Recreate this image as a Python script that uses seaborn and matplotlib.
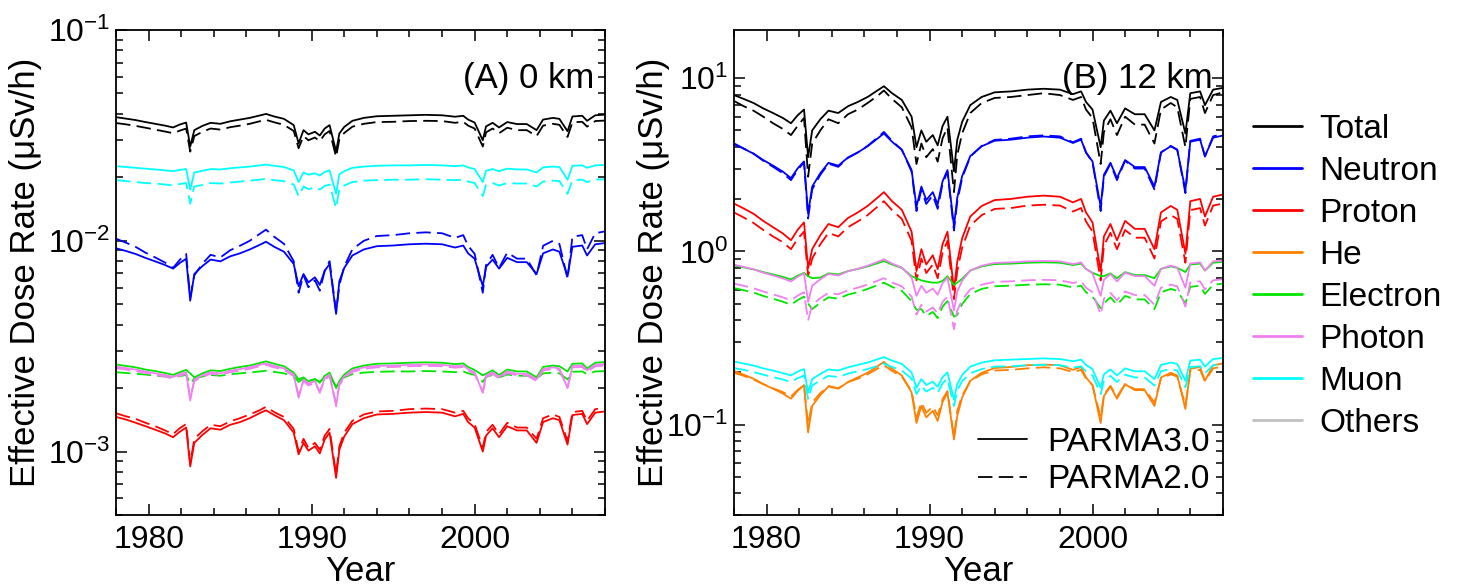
import matplotlib
matplotlib.use('Agg')
import matplotlib.pyplot as plt
from matplotlib.lines import Line2D
from matplotlib.ticker import LogLocator, MultipleLocator, NullFormatter
import numpy as np
import pandas as pd
import seaborn as sns

# time points (year), denser around the sharp decreases
years = [1978.0, 1978.6, 1979.2, 1979.8, 1980.4, 1981.0, 1981.5, 1981.9, 1982.3, 1982.55,
         1982.8, 1983.3, 1983.8, 1984.4, 1985.0, 1985.6, 1986.2, 1986.8, 1987.2, 1987.7,
         1988.3, 1988.9, 1989.2, 1989.5, 1989.8, 1990.2, 1990.5, 1990.8, 1991.1, 1991.5,
         1991.7, 1992.0, 1992.5, 1993.2, 1994.0, 1995.0, 1996.0, 1997.0, 1998.0, 1998.8,
         1999.3, 1999.6, 2000.0, 2000.5, 2000.7, 2001.1, 2001.5, 2002.0, 2002.6, 2003.2,
         2003.8, 2004.2, 2004.8, 2005.2, 2005.7, 2006.0, 2006.6, 2006.9, 2007.4, 2008.0]

# ---------------- (A) 0 km, uSv/h ----------------
a_total_30 = [0.0386, 0.0380, 0.0374, 0.0366, 0.0359, 0.0352, 0.0345, 0.0356, 0.0364, 0.0280,
              0.0335, 0.0351, 0.0363, 0.0359, 0.0369, 0.0376, 0.0383, 0.0393, 0.0400, 0.0389,
              0.0379, 0.0354, 0.0290, 0.0335, 0.0320, 0.0329, 0.0316, 0.0341, 0.0354, 0.0265,
              0.0323, 0.0347, 0.0371, 0.0383, 0.0390, 0.0392, 0.0394, 0.0396, 0.0394, 0.0388,
              0.0392, 0.0376, 0.0364, 0.0300, 0.0349, 0.0363, 0.0345, 0.0366, 0.0358, 0.0358,
              0.0335, 0.0376, 0.0383, 0.0379, 0.0331, 0.0389, 0.0392, 0.0371, 0.0394, 0.0397]
a_total_20 = [0.0362, 0.0357, 0.0351, 0.0344, 0.0337, 0.0330, 0.0324, 0.0333, 0.0341, 0.0265,
              0.0314, 0.0329, 0.0341, 0.0337, 0.0346, 0.0352, 0.0359, 0.0369, 0.0375, 0.0365,
              0.0355, 0.0332, 0.0275, 0.0314, 0.0300, 0.0309, 0.0297, 0.0320, 0.0332, 0.0250,
              0.0303, 0.0325, 0.0348, 0.0359, 0.0366, 0.0367, 0.0370, 0.0371, 0.0370, 0.0363,
              0.0367, 0.0352, 0.0341, 0.0280, 0.0327, 0.0341, 0.0324, 0.0344, 0.0335, 0.0335,
              0.0314, 0.0352, 0.0359, 0.0355, 0.0311, 0.0365, 0.0367, 0.0348, 0.0370, 0.0372]
a_muon_30 = [0.0226, 0.0224, 0.0222, 0.0220, 0.0218, 0.0216, 0.0214, 0.0217, 0.0219, 0.0175,
             0.0211, 0.0215, 0.0219, 0.0218, 0.0221, 0.0223, 0.0225, 0.0228, 0.0230, 0.0227,
             0.0224, 0.0216, 0.0190, 0.0211, 0.0206, 0.0209, 0.0204, 0.0212, 0.0216, 0.0167,
             0.0207, 0.0214, 0.0222, 0.0225, 0.0227, 0.0228, 0.0228, 0.0229, 0.0228, 0.0226,
             0.0228, 0.0223, 0.0219, 0.0190, 0.0215, 0.0219, 0.0214, 0.0220, 0.0218, 0.0218,
             0.0211, 0.0223, 0.0225, 0.0224, 0.0195, 0.0227, 0.0228, 0.0222, 0.0228, 0.0229]
a_muon_20 = [0.0194, 0.0192, 0.0190, 0.0188, 0.0187, 0.0185, 0.0183, 0.0186, 0.0188, 0.0150,
             0.0181, 0.0184, 0.0188, 0.0187, 0.0189, 0.0191, 0.0193, 0.0195, 0.0197, 0.0194,
             0.0192, 0.0185, 0.0163, 0.0181, 0.0176, 0.0179, 0.0175, 0.0182, 0.0185, 0.0143,
             0.0177, 0.0183, 0.0190, 0.0193, 0.0194, 0.0195, 0.0195, 0.0196, 0.0195, 0.0194,
             0.0195, 0.0191, 0.0188, 0.0163, 0.0184, 0.0188, 0.0183, 0.0188, 0.0187, 0.0187,
             0.0181, 0.0191, 0.0193, 0.0192, 0.0167, 0.0194, 0.0195, 0.0190, 0.0195, 0.0196]
a_neutron_30 = [0.00922, 0.00895, 0.00866, 0.00830, 0.00799, 0.00768, 0.00738, 0.00784, 0.00822, 0.00520,
                0.00696, 0.00759, 0.00815, 0.00799, 0.00844, 0.00872, 0.00910, 0.00956, 0.00990, 0.00937,
                0.00888, 0.00776, 0.00609, 0.00696, 0.00635, 0.00671, 0.00618, 0.00721, 0.00776, 0.00450,
                0.00644, 0.00744, 0.00852, 0.00910, 0.00943, 0.00950, 0.00963, 0.00969, 0.00963, 0.00929,
                0.00950, 0.00872, 0.00822, 0.00609, 0.00753, 0.00815, 0.00738, 0.00830, 0.00792, 0.00792,
                0.00696, 0.00872, 0.00910, 0.00888, 0.00678, 0.00937, 0.00950, 0.00852, 0.00963, 0.00976]
a_neutron_20 = [0.01024, 0.00980, 0.00936, 0.00879, 0.00834, 0.00789, 0.00744, 0.00811, 0.00867, 0.00540,
                0.00686, 0.00779, 0.00858, 0.00834, 0.00902, 0.00947, 0.01000, 0.01077, 0.01130, 0.01045,
                0.00968, 0.00800, 0.00567, 0.00686, 0.00602, 0.00650, 0.00580, 0.00720, 0.00800, 0.00460,
                0.00615, 0.00755, 0.00912, 0.01000, 0.01054, 0.01064, 0.01086, 0.01097, 0.01086, 0.01033,
                0.01064, 0.00947, 0.00867, 0.00567, 0.00767, 0.00858, 0.00744, 0.00879, 0.00823, 0.00823,
                0.00686, 0.00947, 0.01000, 0.00968, 0.00662, 0.01045, 0.01064, 0.00912, 0.01086, 0.01109]
a_electron_30 = [0.00259, 0.00255, 0.00251, 0.00245, 0.00241, 0.00236, 0.00231, 0.00238, 0.00244, 0.00235,
                 0.00225, 0.00235, 0.00243, 0.00241, 0.00247, 0.00252, 0.00256, 0.00263, 0.00268, 0.00261,
                 0.00254, 0.00237, 0.00220, 0.00225, 0.00215, 0.00221, 0.00212, 0.00229, 0.00237, 0.00200,
                 0.00216, 0.00232, 0.00248, 0.00256, 0.00261, 0.00262, 0.00264, 0.00265, 0.00264, 0.00260,
                 0.00262, 0.00252, 0.00244, 0.00230, 0.00234, 0.00243, 0.00231, 0.00245, 0.00240, 0.00240,
                 0.00225, 0.00252, 0.00256, 0.00254, 0.00240, 0.00261, 0.00262, 0.00248, 0.00264, 0.00266]
a_electron_20 = [0.00238, 0.00236, 0.00234, 0.00232, 0.00229, 0.00227, 0.00225, 0.00228, 0.00231, 0.00210,
                 0.00222, 0.00227, 0.00231, 0.00229, 0.00233, 0.00235, 0.00237, 0.00240, 0.00242, 0.00239,
                 0.00235, 0.00228, 0.00214, 0.00222, 0.00217, 0.00220, 0.00215, 0.00223, 0.00228, 0.00204,
                 0.00217, 0.00225, 0.00233, 0.00237, 0.00239, 0.00240, 0.00240, 0.00241, 0.00240, 0.00238,
                 0.00240, 0.00235, 0.00231, 0.00214, 0.00226, 0.00231, 0.00225, 0.00232, 0.00229, 0.00229,
                 0.00222, 0.00235, 0.00237, 0.00235, 0.00220, 0.00239, 0.00240, 0.00233, 0.00240, 0.00241]
a_photon_30 = [0.00253, 0.00249, 0.00245, 0.00240, 0.00235, 0.00231, 0.00226, 0.00233, 0.00238, 0.00175,
               0.00220, 0.00230, 0.00238, 0.00235, 0.00242, 0.00246, 0.00251, 0.00258, 0.00262, 0.00255,
               0.00248, 0.00232, 0.00180, 0.00220, 0.00210, 0.00216, 0.00190, 0.00223, 0.00232, 0.00164,
               0.00211, 0.00227, 0.00243, 0.00251, 0.00255, 0.00256, 0.00258, 0.00259, 0.00258, 0.00254,
               0.00256, 0.00246, 0.00238, 0.00190, 0.00229, 0.00238, 0.00226, 0.00240, 0.00234, 0.00234,
               0.00220, 0.00246, 0.00251, 0.00248, 0.00200, 0.00255, 0.00256, 0.00243, 0.00258, 0.00260]
a_photon_20 = [0.00249, 0.00245, 0.00241, 0.00236, 0.00231, 0.00227, 0.00222, 0.00229, 0.00234, 0.00180,
               0.00216, 0.00226, 0.00234, 0.00231, 0.00238, 0.00242, 0.00247, 0.00254, 0.00258, 0.00251,
               0.00244, 0.00228, 0.00185, 0.00216, 0.00206, 0.00212, 0.00193, 0.00219, 0.00228, 0.00170,
               0.00207, 0.00223, 0.00239, 0.00247, 0.00251, 0.00252, 0.00254, 0.00255, 0.00254, 0.00250,
               0.00252, 0.00242, 0.00234, 0.00192, 0.00225, 0.00234, 0.00222, 0.00236, 0.00230, 0.00230,
               0.00216, 0.00242, 0.00247, 0.00244, 0.00202, 0.00251, 0.00252, 0.00239, 0.00254, 0.00256]
a_proton_30 = [0.00146, 0.00142, 0.00137, 0.00132, 0.00127, 0.00122, 0.00117, 0.00124, 0.00130, 0.00085,
               0.00110, 0.00120, 0.00129, 0.00127, 0.00134, 0.00138, 0.00144, 0.00152, 0.00157, 0.00149,
               0.00141, 0.00123, 0.00097, 0.00110, 0.00101, 0.00106, 0.00098, 0.00114, 0.00123, 0.00075,
               0.00102, 0.00118, 0.00135, 0.00144, 0.00150, 0.00151, 0.00153, 0.00154, 0.00153, 0.00147,
               0.00151, 0.00138, 0.00130, 0.00100, 0.00119, 0.00129, 0.00117, 0.00132, 0.00126, 0.00126,
               0.00110, 0.00138, 0.00144, 0.00141, 0.00108, 0.00149, 0.00151, 0.00135, 0.00153, 0.00155]
a_proton_20 = [0.00152, 0.00147, 0.00143, 0.00137, 0.00132, 0.00126, 0.00121, 0.00129, 0.00135, 0.00088,
               0.00115, 0.00125, 0.00134, 0.00132, 0.00139, 0.00144, 0.00150, 0.00157, 0.00163, 0.00154,
               0.00146, 0.00128, 0.00100, 0.00115, 0.00104, 0.00110, 0.00102, 0.00119, 0.00128, 0.00078,
               0.00106, 0.00123, 0.00140, 0.00150, 0.00155, 0.00156, 0.00159, 0.00160, 0.00159, 0.00153,
               0.00156, 0.00144, 0.00135, 0.00104, 0.00124, 0.00134, 0.00121, 0.00137, 0.00130, 0.00130,
               0.00115, 0.00144, 0.00150, 0.00146, 0.00112, 0.00154, 0.00156, 0.00140, 0.00159, 0.00161]

# ---------------- (B) 12 km, uSv/h ----------------
b_total_30 = [8.0, 7.6, 7.2, 6.7, 6.3, 5.9, 5.5, 6.1, 6.6, 3.5,
              5.0, 5.8, 6.5, 6.3, 6.9, 7.3, 7.8, 8.5, 9.0, 8.2,
              7.5, 6.0, 4.0, 5.0, 4.3, 4.7, 4.1, 5.3, 6.0, 2.9,
              4.4, 5.6, 7.0, 7.8, 8.3, 8.4, 8.6, 8.7, 8.6, 8.1,
              8.4, 7.3, 6.6, 4.0, 5.7, 6.5, 5.5, 6.7, 6.2, 6.2,
              5.0, 7.3, 7.8, 7.5, 4.8, 8.2, 8.4, 7.0, 8.6, 8.8]
b_total_20 = [7.4, 6.9, 6.5, 6.0, 5.5, 5.1, 4.7, 5.3, 5.9, 2.7,
              4.2, 5.0, 5.8, 5.5, 6.2, 6.6, 7.2, 7.9, 8.5, 7.6,
              6.8, 5.2, 3.2, 4.2, 3.5, 3.9, 3.3, 4.5, 5.2, 2.2,
              3.6, 4.8, 6.3, 7.2, 7.7, 7.8, 8.0, 8.2, 8.0, 7.5,
              7.8, 6.6, 5.9, 3.2, 4.9, 5.8, 4.7, 6.0, 5.4, 5.4,
              4.2, 6.6, 7.2, 6.8, 4.0, 7.6, 7.8, 6.3, 8.0, 8.3]
b_neutron_30 = [4.17, 3.92, 3.67, 3.37, 3.13, 2.89, 2.65, 3.01, 3.31, 1.65,
                2.37, 2.83, 3.25, 3.13, 3.49, 3.73, 4.05, 4.48, 4.80, 4.30,
                3.86, 2.95, 1.81, 2.37, 1.98, 2.20, 1.87, 2.54, 2.95, 1.40,
                2.04, 2.72, 3.55, 4.05, 4.36, 4.42, 4.54, 4.61, 4.54, 4.23,
                4.42, 3.73, 3.31, 1.81, 2.77, 3.25, 2.65, 3.37, 3.07, 3.07,
                2.37, 3.73, 4.05, 3.86, 2.26, 4.30, 4.42, 3.55, 4.54, 4.67]
b_neutron_20 = [4.21, 3.93, 3.67, 3.34, 3.08, 2.83, 2.58, 2.95, 3.27, 1.55,
                2.28, 2.77, 3.21, 3.08, 3.47, 3.73, 4.07, 4.54, 4.90, 4.35,
                3.87, 2.89, 1.71, 2.28, 1.88, 2.11, 1.76, 2.46, 2.89, 1.32,
                1.93, 2.65, 3.53, 4.07, 4.41, 4.48, 4.62, 4.68, 4.62, 4.27,
                4.48, 3.73, 3.27, 1.71, 2.71, 3.21, 2.58, 3.34, 3.01, 3.01,
                2.28, 3.73, 4.07, 3.87, 2.17, 4.35, 4.48, 3.53, 4.62, 4.75]
b_proton_30 = [1.89, 1.77, 1.65, 1.50, 1.38, 1.27, 1.16, 1.33, 1.47, 0.80,
               1.03, 1.24, 1.44, 1.38, 1.56, 1.68, 1.83, 2.04, 2.20, 1.95,
               1.74, 1.30, 0.77, 1.03, 0.84, 0.95, 0.79, 1.10, 1.30, 0.60,
               0.87, 1.19, 1.59, 1.83, 1.98, 2.01, 2.07, 2.10, 2.07, 1.92,
               2.01, 1.68, 1.47, 0.77, 1.22, 1.44, 1.16, 1.50, 1.35, 1.35,
               1.03, 1.68, 1.83, 1.74, 0.97, 1.95, 2.01, 1.59, 2.07, 2.13]
b_proton_20 = [1.68, 1.57, 1.46, 1.33, 1.22, 1.13, 1.03, 1.18, 1.30, 0.72,
               0.91, 1.10, 1.28, 1.22, 1.38, 1.49, 1.62, 1.81, 1.95, 1.73,
               1.54, 1.15, 0.68, 0.91, 0.75, 0.84, 0.70, 0.98, 1.15, 0.53,
               0.77, 1.05, 1.41, 1.62, 1.76, 1.78, 1.84, 1.86, 1.84, 1.70,
               1.78, 1.49, 1.30, 0.68, 1.08, 1.28, 1.03, 1.33, 1.20, 1.20,
               0.91, 1.49, 1.62, 1.54, 0.86, 1.73, 1.78, 1.41, 1.84, 1.89]
b_he_30 = [0.204, 0.194, 0.184, 0.171, 0.161, 0.151, 0.141, 0.156, 0.169, 0.090,
           0.128, 0.148, 0.166, 0.161, 0.176, 0.187, 0.199, 0.217, 0.230, 0.210,
           0.192, 0.153, 0.102, 0.128, 0.110, 0.120, 0.105, 0.135, 0.153, 0.082,
           0.112, 0.143, 0.179, 0.199, 0.212, 0.215, 0.220, 0.222, 0.220, 0.207,
           0.215, 0.187, 0.169, 0.102, 0.146, 0.166, 0.141, 0.171, 0.158, 0.158,
           0.128, 0.187, 0.199, 0.192, 0.123, 0.210, 0.215, 0.179, 0.220, 0.225]
b_he_20 = [0.199, 0.191, 0.182, 0.171, 0.162, 0.154, 0.145, 0.158, 0.169, 0.099,
           0.134, 0.152, 0.167, 0.162, 0.176, 0.184, 0.195, 0.210, 0.220, 0.204,
           0.189, 0.156, 0.110, 0.134, 0.117, 0.127, 0.113, 0.140, 0.156, 0.084,
           0.120, 0.147, 0.178, 0.195, 0.205, 0.207, 0.211, 0.214, 0.211, 0.201,
           0.207, 0.184, 0.169, 0.110, 0.149, 0.167, 0.145, 0.171, 0.160, 0.160,
           0.134, 0.184, 0.195, 0.189, 0.129, 0.204, 0.207, 0.178, 0.211, 0.216]
b_electron_30 = [0.829, 0.809, 0.787, 0.759, 0.736, 0.713, 0.688, 0.724, 0.752, 0.720,
                 0.700, 0.706, 0.747, 0.736, 0.770, 0.792, 0.819, 0.854, 0.880, 0.840,
                 0.803, 0.719, 0.700, 0.680, 0.670, 0.660, 0.660, 0.675, 0.719, 0.640,
                 0.660, 0.694, 0.775, 0.819, 0.845, 0.850, 0.860, 0.865, 0.860, 0.834,
                 0.850, 0.792, 0.752, 0.720, 0.720, 0.747, 0.700, 0.759, 0.730, 0.730,
                 0.700, 0.792, 0.819, 0.803, 0.760, 0.840, 0.850, 0.775, 0.860, 0.870]
b_electron_20 = [0.614, 0.597, 0.578, 0.553, 0.533, 0.512, 0.492, 0.523, 0.548, 0.500,
                 0.464, 0.506, 0.543, 0.533, 0.563, 0.581, 0.607, 0.638, 0.660, 0.624,
                 0.592, 0.517, 0.460, 0.464, 0.423, 0.447, 0.412, 0.480, 0.517, 0.420,
                 0.429, 0.496, 0.568, 0.607, 0.629, 0.634, 0.642, 0.646, 0.642, 0.619,
                 0.634, 0.581, 0.548, 0.470, 0.502, 0.543, 0.492, 0.553, 0.528, 0.528,
                 0.464, 0.581, 0.607, 0.592, 0.500, 0.624, 0.634, 0.568, 0.642, 0.651]
b_photon_30 = [0.838, 0.814, 0.788, 0.754, 0.726, 0.698, 0.671, 0.713, 0.747, 0.511,
               0.633, 0.690, 0.741, 0.726, 0.768, 0.793, 0.827, 0.869, 0.900, 0.851,
               0.807, 0.706, 0.554, 0.633, 0.577, 0.610, 0.562, 0.655, 0.706, 0.456,
               0.585, 0.677, 0.775, 0.827, 0.858, 0.864, 0.876, 0.881, 0.876, 0.844,
               0.864, 0.793, 0.747, 0.554, 0.685, 0.741, 0.671, 0.754, 0.720, 0.720,
               0.633, 0.793, 0.827, 0.807, 0.617, 0.851, 0.864, 0.775, 0.876, 0.887]
b_photon_20 = [0.652, 0.633, 0.613, 0.587, 0.565, 0.543, 0.522, 0.554, 0.581, 0.398,
               0.492, 0.537, 0.576, 0.565, 0.597, 0.617, 0.643, 0.676, 0.700, 0.662,
               0.628, 0.549, 0.431, 0.492, 0.449, 0.475, 0.437, 0.510, 0.549, 0.355,
               0.455, 0.526, 0.603, 0.643, 0.667, 0.672, 0.681, 0.685, 0.681, 0.657,
               0.672, 0.617, 0.581, 0.431, 0.533, 0.576, 0.522, 0.587, 0.560, 0.560,
               0.492, 0.617, 0.643, 0.628, 0.480, 0.662, 0.672, 0.603, 0.681, 0.690]
b_muon_30 = [0.231, 0.225, 0.219, 0.211, 0.205, 0.198, 0.192, 0.202, 0.209, 0.153,
             0.183, 0.196, 0.208, 0.205, 0.214, 0.221, 0.228, 0.238, 0.245, 0.234,
             0.224, 0.200, 0.163, 0.183, 0.169, 0.177, 0.165, 0.188, 0.200, 0.139,
             0.171, 0.193, 0.216, 0.228, 0.235, 0.237, 0.239, 0.241, 0.239, 0.232,
             0.237, 0.221, 0.209, 0.163, 0.195, 0.208, 0.192, 0.211, 0.203, 0.203,
             0.183, 0.221, 0.228, 0.224, 0.179, 0.234, 0.237, 0.216, 0.239, 0.242]
b_muon_20 = [0.212, 0.207, 0.201, 0.194, 0.188, 0.182, 0.176, 0.185, 0.192, 0.140,
             0.168, 0.180, 0.191, 0.188, 0.197, 0.203, 0.209, 0.218, 0.225, 0.215,
             0.205, 0.184, 0.150, 0.168, 0.155, 0.163, 0.152, 0.173, 0.184, 0.128,
             0.157, 0.178, 0.198, 0.209, 0.216, 0.217, 0.220, 0.221, 0.220, 0.213,
             0.217, 0.203, 0.192, 0.150, 0.179, 0.191, 0.176, 0.194, 0.187, 0.187,
             0.168, 0.203, 0.209, 0.205, 0.164, 0.215, 0.217, 0.198, 0.220, 0.223]
# "Others" stays below the lower edge of panel B
b_others_30 = [0.017, 0.017, 0.016, 0.016, 0.015, 0.015, 0.014, 0.015, 0.015, 0.011,
               0.013, 0.014, 0.015, 0.015, 0.016, 0.016, 0.017, 0.017, 0.018, 0.017,
               0.016, 0.015, 0.012, 0.013, 0.012, 0.013, 0.012, 0.014, 0.015, 0.010,
               0.013, 0.014, 0.016, 0.017, 0.017, 0.017, 0.018, 0.018, 0.018, 0.017,
               0.017, 0.016, 0.015, 0.012, 0.014, 0.015, 0.014, 0.016, 0.015, 0.015,
               0.013, 0.016, 0.017, 0.016, 0.013, 0.017, 0.017, 0.016, 0.018, 0.018]

components = ['Total', 'Neutron', 'Proton', 'He', 'Electron', 'Photon', 'Muon', 'Others']
colors = {'Total': '#000000', 'Neutron': '#0000FF', 'Proton': '#FF0000', 'He': '#FF8000',
          'Electron': '#00E600', 'Photon': '#F080F0', 'Muon': '#00FFFF', 'Others': '#C0C0C0'}
models = ['PARMA3.0', 'PARMA2.0']

panel_a = {('Total', 'PARMA3.0'): a_total_30, ('Total', 'PARMA2.0'): a_total_20,
           ('Neutron', 'PARMA3.0'): a_neutron_30, ('Neutron', 'PARMA2.0'): a_neutron_20,
           ('Proton', 'PARMA3.0'): a_proton_30, ('Proton', 'PARMA2.0'): a_proton_20,
           ('Electron', 'PARMA3.0'): a_electron_30, ('Electron', 'PARMA2.0'): a_electron_20,
           ('Photon', 'PARMA3.0'): a_photon_30, ('Photon', 'PARMA2.0'): a_photon_20,
           ('Muon', 'PARMA3.0'): a_muon_30, ('Muon', 'PARMA2.0'): a_muon_20}
panel_b = {('Total', 'PARMA3.0'): b_total_30, ('Total', 'PARMA2.0'): b_total_20,
           ('Neutron', 'PARMA3.0'): b_neutron_30, ('Neutron', 'PARMA2.0'): b_neutron_20,
           ('Proton', 'PARMA3.0'): b_proton_30, ('Proton', 'PARMA2.0'): b_proton_20,
           ('He', 'PARMA3.0'): b_he_30, ('He', 'PARMA2.0'): b_he_20,
           ('Electron', 'PARMA3.0'): b_electron_30, ('Electron', 'PARMA2.0'): b_electron_20,
           ('Photon', 'PARMA3.0'): b_photon_30, ('Photon', 'PARMA2.0'): b_photon_20,
           ('Muon', 'PARMA3.0'): b_muon_30, ('Muon', 'PARMA2.0'): b_muon_20,
           ('Others', 'PARMA3.0'): b_others_30}


def long_table(series):
    rows = []
    for (comp, model), vals in series.items():
        assert len(vals) == len(years), (comp, model)
        for yr, v in zip(years, vals):
            rows.append((yr, v, comp, model))
    return pd.DataFrame(rows, columns=['Year', 'Dose', 'Component', 'Model'])


sns.set_style('ticks')
plt.rcParams['font.family'] = ['Liberation Sans', 'DejaVu Sans']
plt.rcParams['mathtext.fontset'] = 'custom'
plt.rcParams['mathtext.rm'] = 'Liberation Sans'
for key in ['axes.edgecolor', 'xtick.color', 'ytick.color', 'text.color', 'axes.labelcolor']:
    plt.rcParams[key] = 'black'

fig = plt.figure(figsize=(14.6, 5.88), dpi=100)
ax_a = fig.add_axes([0.0795, 0.1241, 0.3349, 0.8248])
ax_b = fig.add_axes([0.5027, 0.1241, 0.3349, 0.8248])

for ax, series, ylim, title, ylab_x in [(ax_a, panel_a, (5e-4, 0.1), '(A) 0 km', -0.151),
                                        (ax_b, panel_b, (0.03, 19), '(B) 12 km', -0.131)]:
    df = long_table(series)
    present = [c for c in components if c in set(df['Component'])]
    sns.lineplot(data=df, x='Year', y='Dose', hue='Component', style='Model',
                 hue_order=present, style_order=models, palette=colors,
                 dashes={'PARMA3.0': '', 'PARMA2.0': (8, 3.5)},
                 estimator=None, lw=1.3, legend=False, ax=ax)
    ax.set_yscale('log')
    ax.set_xlim(1978, 2008)
    ax.set_ylim(*ylim)
    ax.xaxis.set_major_locator(MultipleLocator(10))
    ax.xaxis.set_minor_locator(MultipleLocator(2))
    ax.yaxis.set_major_locator(LogLocator(base=10, numticks=10))
    ax.yaxis.set_minor_locator(LogLocator(base=10, subs=np.arange(2, 10), numticks=20))
    ax.yaxis.set_minor_formatter(NullFormatter())
    ax.tick_params(which='both', direction='in', top=True, right=True, labelsize=23,
                   width=1.1, pad=4)
    ax.tick_params(axis='x', which='both', pad=7)
    ax.tick_params(which='major', length=8)
    ax.tick_params(which='minor', length=5)
    for sp in ax.spines.values():
        sp.set_linewidth(1.3)
        sp.set_color('black')
    ax.set_xlabel('Year', fontsize=25, labelpad=0)
    ax.set_ylabel('Effective Dose Rate (\u03bcSv/h)', fontsize=25)
    ax.yaxis.set_label_coords(ylab_x, 0.5)
    ax.text(0.978, 0.901, title, transform=ax.transAxes, ha='right', va='center', fontsize=25)

# component legend, right of panel B
comp_handles = [Line2D([], [], color=colors[c], lw=2) for c in components]
leg1 = ax_b.legend(comp_handles, components, loc='upper left', bbox_to_anchor=(1.061, 0.827),
                   frameon=False, fontsize=24, borderpad=0, borderaxespad=0,
                   handlelength=1.47, handletextpad=0.54, labelspacing=0.33)
ax_b.add_artist(leg1)

# model legend inside panel B
model_handles = [Line2D([], [], color='black', lw=1.3),
                 Line2D([], [], color='black', lw=1.3, dashes=(8, 3.5))]
ax_b.legend(model_handles, models, loc='upper left', bbox_to_anchor=(0.499, 0.182),
            frameon=False, fontsize=24, borderpad=0, borderaxespad=0,
            handlelength=1.47, handletextpad=0.6, labelspacing=0.2)

fig.savefig('out.png', dpi=100)
